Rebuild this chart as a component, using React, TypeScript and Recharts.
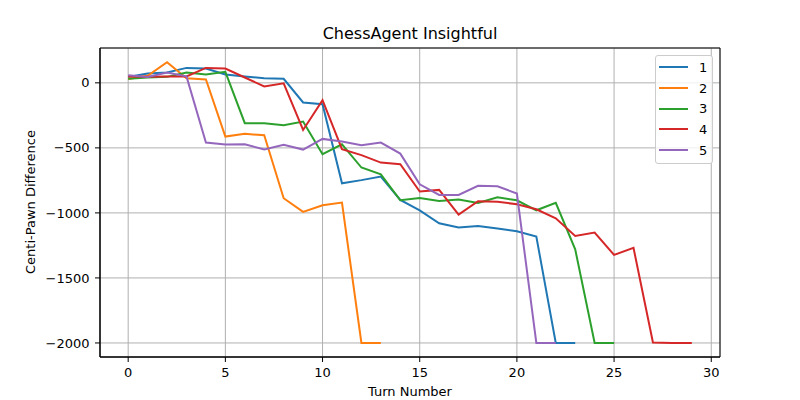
import { LineChart, Line, XAxis, YAxis, CartesianGrid, ReferenceArea } from "recharts";

// centi-pawn difference per turn, one array per game
const game1 = [46, 72, 80, 115, 110, 64, 49, 36, 31, -151, -164, -772, -748, -720, -900, -980, -1080, -1113, -1100, -1120, -1141, -1182, -2000, -2000];
const game2 = [30, 54, 159, 36, 26, -413, -392, -403, -887, -992, -941, -921, -2000, -2000];
const game3 = [31, 41, 46, 80, 64, 85, -310, -310, -325, -298, -549, -472, -651, -703, -903, -885, -908, -897, -923, -880, -903, -980, -923, -1280, -2000, -2000];
const game4 = [49, 46, 49, 49, 115, 110, 41, -28, -3, -362, -133, -510, -556, -613, -626, -836, -823, -1013, -910, -915, -933, -972, -1041, -1177, -1151, -1323, -1269, -1997, -2000, -2000];
const game5 = [59, 45, 80, 50, -459, -474, -472, -513, -477, -513, -431, -451, -480, -459, -544, -780, -862, -862, -792, -795, -851, -2000, -2000];

const seriesNames = ["1", "2", "3", "4", "5"];
const colors = ["#1f77b4", "#ff7f0e", "#2ca02c", "#d62728", "#9467bd"];
const xTicks = [0, 5, 10, 15, 20, 25, 30];
const yTicks = [-2000, -1500, -1000, -500, 0];

const games = [game1, game2, game3, game4, game5];
const series = games.map((vals, i) => ({
    name: seriesNames[i],
    color: colors[i],
    data: vals.map((v, t) => ({ turn: t, cp: v })),
}));

const font = "'DejaVu Sans', sans-serif";
// matplotlib-style minus sign
const fmt = (v: number) => String(v).replace("-", "\u2212");

function LegendBox() {
    return (
        <div
            style={{
                position: "absolute",
                left: 655,
                top: 55,
                border: "1px solid #cccccc",
                borderRadius: 3,
                background: "rgba(255,255,255,0.8)",
                padding: "1px 5px 3px 3px",
                fontSize: 13,
                color: "#000",
            }}
        >
            {series.map((s) => (
                <div key={s.name} style={{ display: "flex", alignItems: "center", height: 20.7 }}>
                    <svg width={29} height={10} style={{ marginRight: 11 }}>
                        <line x1={0} y1={5} x2={29} y2={5} stroke={s.color} strokeWidth={2} />
                    </svg>
                    <span>{s.name}</span>
                </div>
            ))}
        </div>
    );
}

export default function App() {
    return (
        <div style={{ position: "absolute", left: 0, top: 0, width: 800, height: 400, background: "#fff", fontFamily: font }}>
            <LineChart width={800} height={400} margin={{ top: 48, right: 80, left: 0, bottom: 0 }}>
                <CartesianGrid stroke="#b0b0b0" strokeWidth={1} />
                <XAxis
                    dataKey="turn"
                    type="number"
                    domain={[-1.45, 30.45]}
                    ticks={xTicks}
                    tickFormatter={fmt}
                    allowDataOverflow
                    height={43}
                    tickSize={5}
                    tickMargin={6}
                    stroke="#000"
                    tick={{ fill: "#000", fontSize: 13, fontFamily: font }}
                />
                <YAxis
                    type="number"
                    domain={[-2108, 268]}
                    ticks={yTicks}
                    tickFormatter={fmt}
                    allowDataOverflow
                    width={100}
                    tickSize={5}
                    tickMargin={5.5}
                    stroke="#000"
                    tick={{ fill: "#000", fontSize: 13, fontFamily: font }}
                />
                <ReferenceArea x1={-1.45} x2={30.45} y1={-2108} y2={268} fill="none" stroke="#000" strokeWidth={1} />
                {series.map((s) => (
                    <Line
                        key={s.name}
                        data={s.data}
                        dataKey="cp"
                        name={s.name}
                        type="linear"
                        stroke={s.color}
                        strokeWidth={2}
                        dot={false}
                        activeDot={false}
                        isAnimationActive={false}
                    />
                ))}
            </LineChart>
            <div style={{ position: "absolute", left: 100, width: 620, top: 24, textAlign: "center", fontSize: 16 }}>
                ChessAgent Insightful
            </div>
            <div style={{ position: "absolute", left: 100, width: 620, top: 384, textAlign: "center", fontSize: 13 }}>
                Turn Number
            </div>
            <div
                style={{
                    position: "absolute",
                    left: 30,
                    top: 202,
                    transform: "translate(-50%, -50%) rotate(-90deg)",
                    whiteSpace: "nowrap",
                    fontSize: 13,
                }}
            >
                Centi-Pawn Difference
            </div>
            <LegendBox />
        </div>
    );
}
